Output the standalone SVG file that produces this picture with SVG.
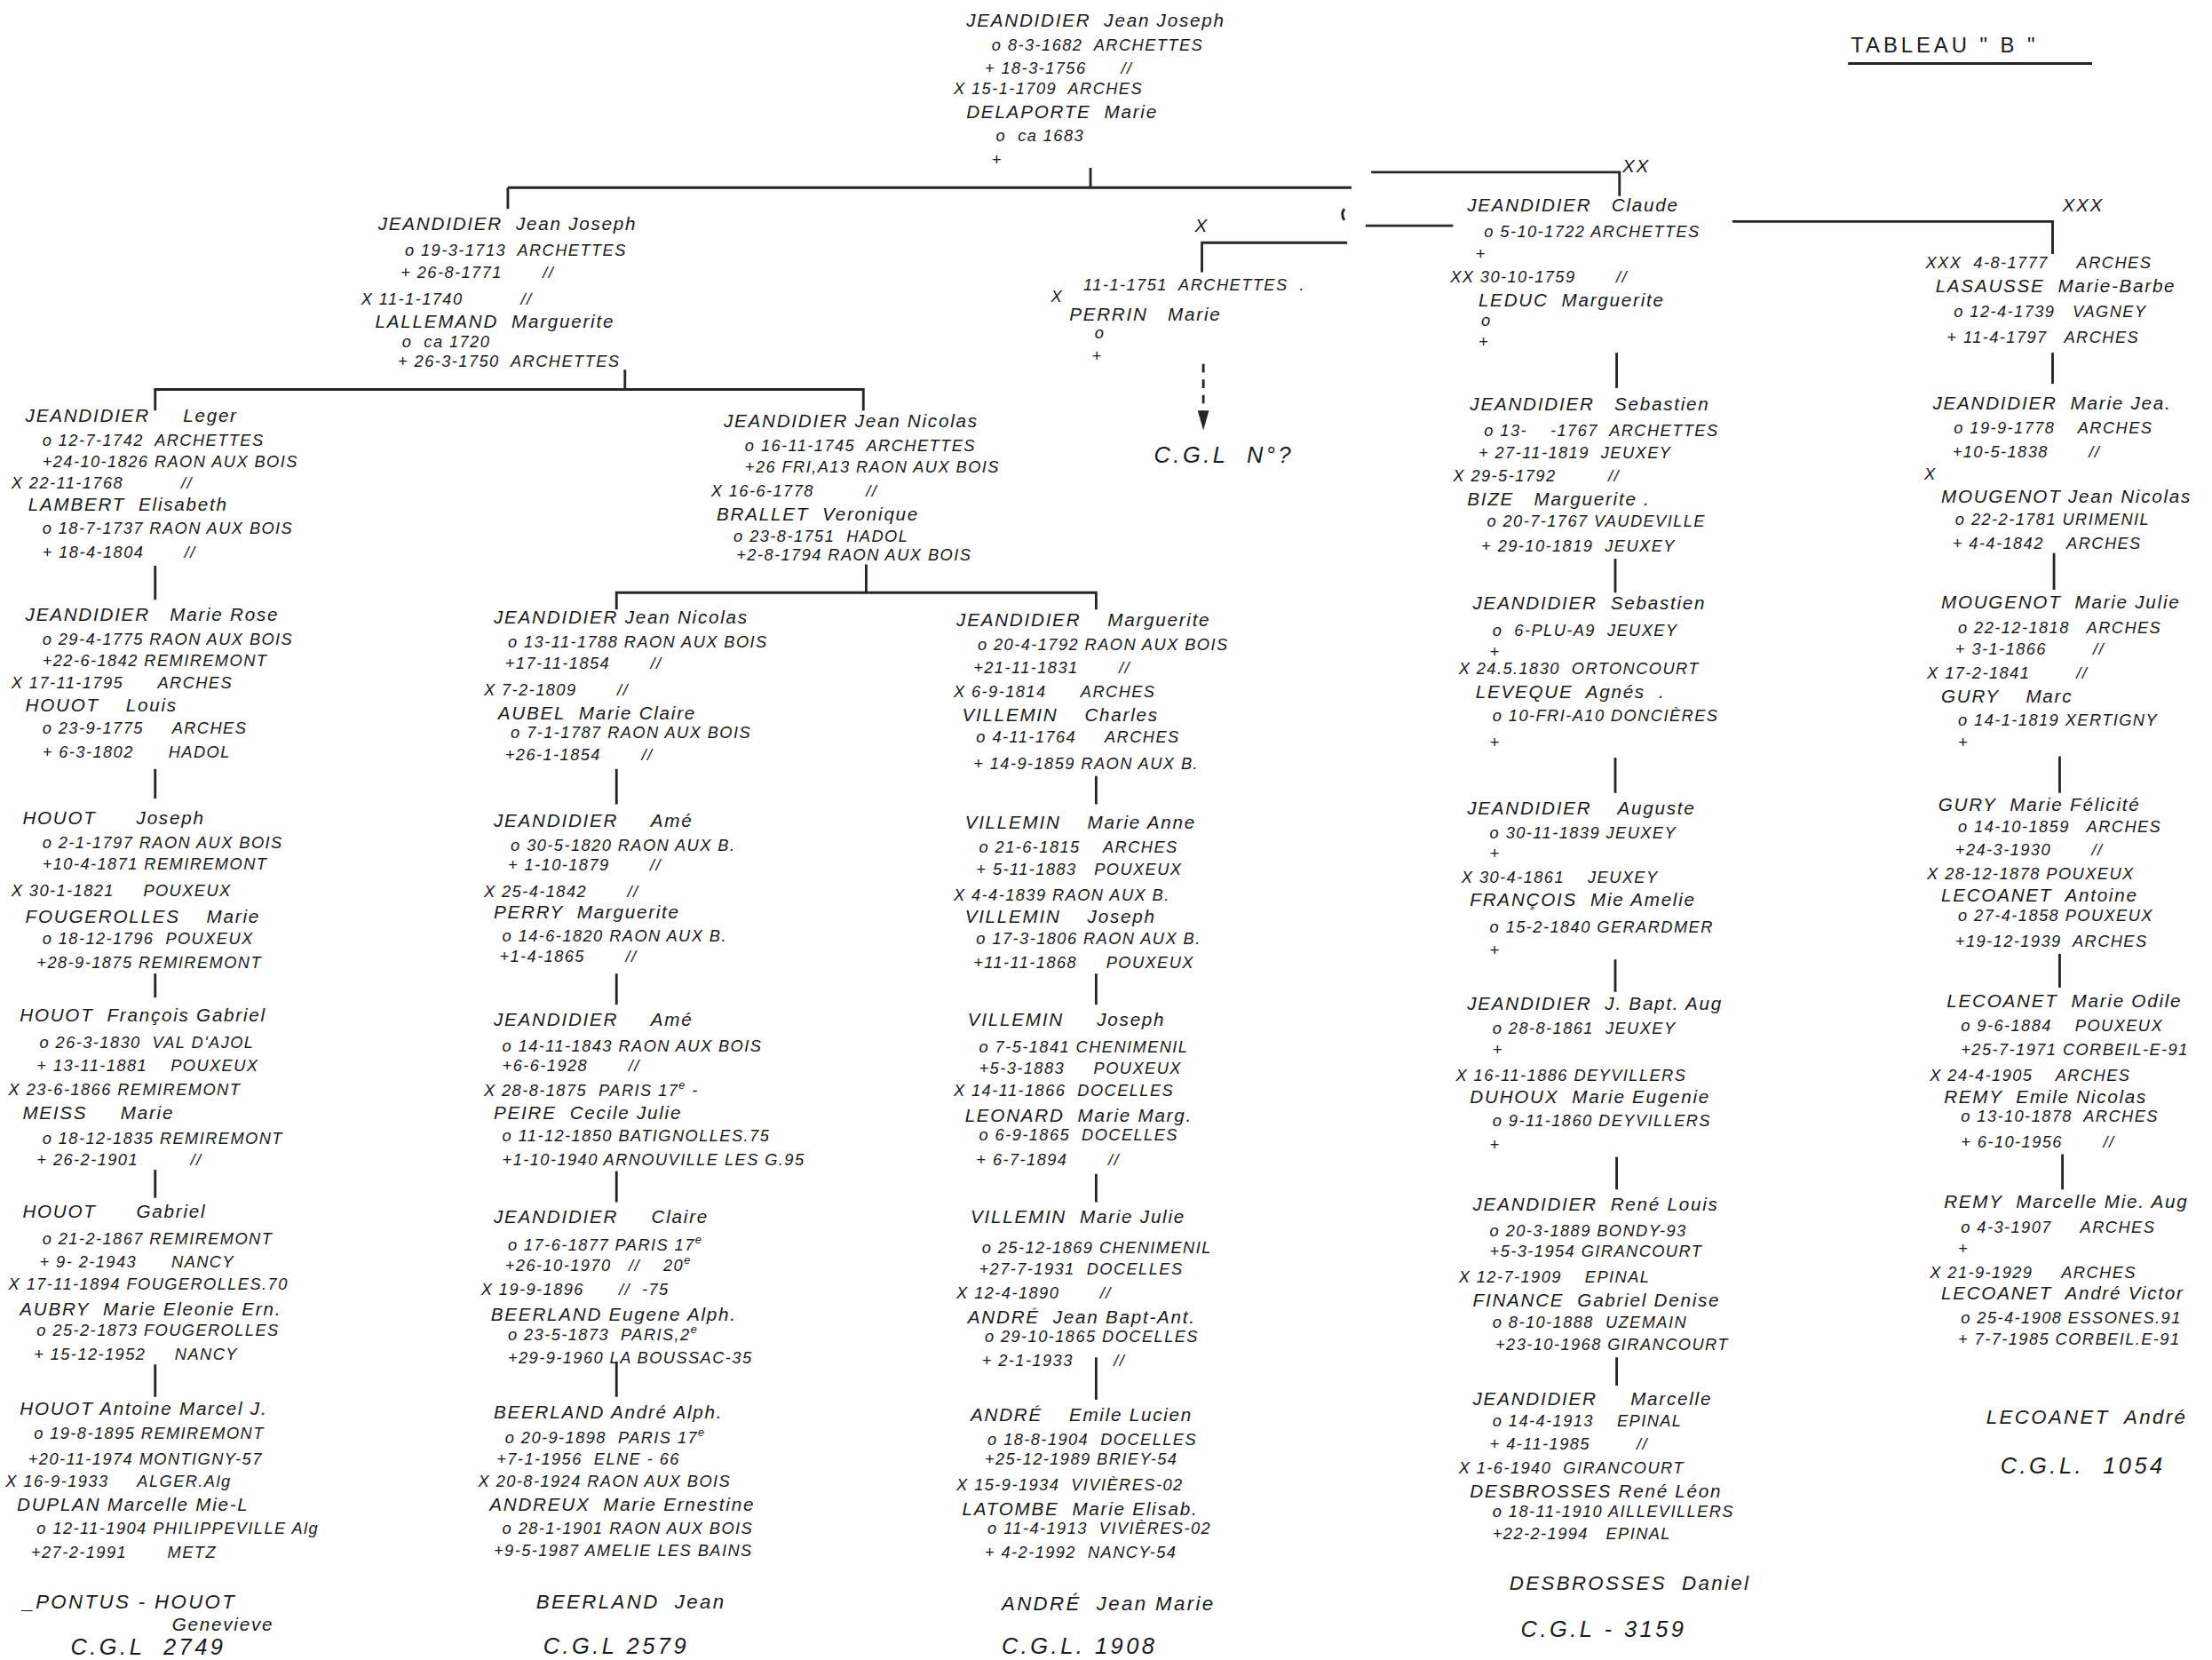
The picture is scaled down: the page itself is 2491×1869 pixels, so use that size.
<svg xmlns="http://www.w3.org/2000/svg" width="2491" height="1869" viewBox="0 0 2491 1869">
<style>
text{font-family:"Liberation Sans","DejaVu Sans",sans-serif;font-style:italic;fill:#1a1a1a;white-space:pre}
.n{font-size:13px;letter-spacing:1.1px}
.d{font-size:11.5px;letter-spacing:0.9px}
.f{font-size:14px;letter-spacing:1.5px}
.g{font-size:16px;letter-spacing:2.2px}
.t{font-size:15px;letter-spacing:2.5px;font-style:normal}
.c line,.c path{stroke:#262626;stroke-width:1.8;fill:none}
.c .dash{stroke-dasharray:6 5}
</style>
<rect width="2491" height="1869" fill="#fff"/>
<g transform="scale(1.58865)">
<g id="title">
<text class="t" x="1312" y="37">TABLEAU " B "</text>
<line x1="1310" y1="45" x2="1483" y2="45" stroke="#262626" stroke-width="1.8"/>
</g>
<g class="c" id="connectors">
<line x1="773" y1="119" x2="773" y2="133"/>
<line x1="360" y1="133" x2="958" y2="133"/>
<line x1="360" y1="133" x2="360" y2="148"/>
<path d="M972 122 H1148 V139"/>
<path d="M953 148 q-3 4 0 8"/>
<line x1="968" y1="160" x2="1030" y2="160"/>
<path d="M955 172 H852 V193"/>
<path d="M1228 157 H1455 V180"/>
<line class="dash" x1="853" y1="258" x2="853" y2="292"/>
<path d="M849 291 L857 291 L853 305 Z" style="fill:#262626;stroke:none"/>
<line x1="443" y1="262" x2="443" y2="276"/>
<path d="M110 291 V276 H612 V291"/>
<line x1="110" y1="401" x2="110" y2="425"/>
<line x1="110" y1="545" x2="110" y2="566"/>
<line x1="110" y1="690" x2="110" y2="707"/>
<line x1="110" y1="829" x2="110" y2="849"/>
<line x1="110" y1="967" x2="110" y2="990"/>
<line x1="614" y1="400" x2="614" y2="420"/>
<path d="M437 432 V420 H777 V432"/>
<line x1="437" y1="545" x2="437" y2="570"/>
<line x1="437" y1="690" x2="437" y2="712"/>
<line x1="437" y1="830" x2="437" y2="852"/>
<line x1="437" y1="965" x2="437" y2="990"/>
<line x1="777" y1="550" x2="777" y2="570"/>
<line x1="777" y1="690" x2="777" y2="712"/>
<line x1="777" y1="832" x2="777" y2="852"/>
<line x1="777" y1="962" x2="777" y2="992"/>
<line x1="1146" y1="250" x2="1146" y2="275"/>
<line x1="1145" y1="396" x2="1145" y2="420"/>
<line x1="1145" y1="537" x2="1145" y2="562"/>
<line x1="1145" y1="680" x2="1145" y2="703"/>
<line x1="1146" y1="820" x2="1146" y2="843"/>
<line x1="1146" y1="962" x2="1146" y2="982"/>
<line x1="1455" y1="250" x2="1455" y2="272"/>
<line x1="1456" y1="392" x2="1456" y2="418"/>
<line x1="1460" y1="536" x2="1460" y2="562"/>
<line x1="1460" y1="676" x2="1460" y2="700"/>
<line x1="1462" y1="818" x2="1462" y2="843"/>
</g>
<g id="marks">
<text class="n" x="1150" y="122">XX</text>
<text class="n" x="1462" y="150">XXX</text>
<text class="n" x="847" y="164">X</text>
</g>
<g id="root">
<text class="n" x="685" y="19">JEANDIDIER  Jean Joseph</text>
<text class="d" x="703" y="36">o 8-3-1682  ARCHETTES</text>
<text class="d" x="698" y="52">+ 18-3-1756      //</text>
<text class="d" x="676" y="67">X 15-1-1709  ARCHES</text>
<text class="n" x="685" y="84">DELAPORTE  Marie</text>
<text class="d" x="706" y="100">o  ca 1683</text>
<text class="d" x="703" y="117">+</text>
</g>
<g id="jeanjoseph1713">
<text class="n" x="268" y="163">JEANDIDIER  Jean Joseph</text>
<text class="d" x="287" y="181">o 19-3-1713  ARCHETTES</text>
<text class="d" x="284" y="197">+ 26-8-1771       //</text>
<text class="d" x="256" y="216">X 11-1-1740          //</text>
<text class="n" x="266" y="232">LALLEMAND  Marguerite</text>
<text class="d" x="285" y="246">o  ca 1720</text>
<text class="d" x="282" y="260">+ 26-3-1750  ARCHETTES</text>
</g>
<g id="perrin">
<text class="d" x="745" y="214">X</text>
<text class="d" x="768" y="206">11-1-1751  ARCHETTES  .</text>
<text class="n" x="758" y="227">PERRIN   Marie</text>
<text class="d" x="776" y="240">o</text>
<text class="d" x="774" y="256">+</text>
</g>
<g id="cgl-unknown">
<text class="g" x="818" y="328">C.G.L  N°?</text>
</g>
<g id="claude">
<text class="n" x="1040" y="150">JEANDIDIER   Claude</text>
<text class="d" x="1052" y="168">o 5-10-1722 ARCHETTES</text>
<text class="d" x="1046" y="184">+</text>
<text class="d" x="1028" y="200">XX 30-10-1759       //</text>
<text class="n" x="1048" y="217">LEDUC  Marguerite</text>
<text class="d" x="1050" y="231">o</text>
<text class="d" x="1048" y="246">+</text>
</g>
<g id="lasausse">
<text class="d" x="1365" y="190">XXX  4-8-1777     ARCHES</text>
<text class="n" x="1372" y="207">LASAUSSE  Marie-Barbe</text>
<text class="d" x="1385" y="225">o 12-4-1739   VAGNEY</text>
<text class="d" x="1380" y="243">+ 11-4-1797   ARCHES</text>
</g>
<g id="leger">
<text class="n" x="18" y="299">JEANDIDIER     Leger</text>
<text class="d" x="30" y="316">o 12-7-1742  ARCHETTES</text>
<text class="d" x="30" y="331">+24-10-1826 RAON AUX BOIS</text>
<text class="d" x="8" y="346">X 22-11-1768          //</text>
<text class="n" x="20" y="362">LAMBERT  Elisabeth</text>
<text class="d" x="30" y="378">o 18-7-1737 RAON AUX BOIS</text>
<text class="d" x="30" y="395">+ 18-4-1804       //</text>
</g>
<g id="marierose">
<text class="n" x="18" y="440">JEANDIDIER   Marie Rose</text>
<text class="d" x="30" y="457">o 29-4-1775 RAON AUX BOIS</text>
<text class="d" x="30" y="472">+22-6-1842 REMIREMONT</text>
<text class="d" x="8" y="488">X 17-11-1795      ARCHES</text>
<text class="n" x="18" y="504">HOUOT    Louis</text>
<text class="d" x="30" y="520">o 23-9-1775     ARCHES</text>
<text class="d" x="30" y="537">+ 6-3-1802      HADOL</text>
</g>
<g id="houotjoseph">
<text class="n" x="16" y="584">HOUOT      Joseph</text>
<text class="d" x="30" y="601">o 2-1-1797 RAON AUX BOIS</text>
<text class="d" x="30" y="616">+10-4-1871 REMIREMONT</text>
<text class="d" x="8" y="635">X 30-1-1821     POUXEUX</text>
<text class="n" x="18" y="654">FOUGEROLLES    Marie</text>
<text class="d" x="30" y="669">o 18-12-1796  POUXEUX</text>
<text class="d" x="26" y="686">+28-9-1875 REMIREMONT</text>
</g>
<g id="houotfrancois">
<text class="n" x="14" y="724">HOUOT  François Gabriel</text>
<text class="d" x="28" y="743">o 26-3-1830  VAL D'AJOL</text>
<text class="d" x="26" y="759">+ 13-11-1881    POUXEUX</text>
<text class="d" x="6" y="776">X 23-6-1866 REMIREMONT</text>
<text class="n" x="16" y="793">MEISS     Marie</text>
<text class="d" x="30" y="811">o 18-12-1835 REMIREMONT</text>
<text class="d" x="26" y="826">+ 26-2-1901         //</text>
</g>
<g id="houotgabriel">
<text class="n" x="16" y="863">HOUOT      Gabriel</text>
<text class="d" x="30" y="882">o 21-2-1867 REMIREMONT</text>
<text class="d" x="28" y="898">+ 9- 2-1943      NANCY</text>
<text class="d" x="6" y="914">X 17-11-1894 FOUGEROLLES.70</text>
<text class="n" x="14" y="932">AUBRY  Marie Eleonie Ern.</text>
<text class="d" x="26" y="947">o 25-2-1873 FOUGEROLLES</text>
<text class="d" x="24" y="964">+ 15-12-1952     NANCY</text>
</g>
<g id="houotantoine">
<text class="n" x="14" y="1003">HOUOT Antoine Marcel J.</text>
<text class="d" x="24" y="1020">o 19-8-1895 REMIREMONT</text>
<text class="d" x="20" y="1038">+20-11-1974 MONTIGNY-57</text>
<text class="d" x="4" y="1054">X 16-9-1933     ALGER.Alg</text>
<text class="n" x="12" y="1071">DUPLAN Marcelle Mie-L</text>
<text class="d" x="26" y="1087">o 12-11-1904 PHILIPPEVILLE Alg</text>
<text class="d" x="22" y="1104">+27-2-1991       METZ</text>
</g>
<g id="pontus">
<text class="f" x="16" y="1140">_PONTUS - HOUOT</text>
<text class="n" x="122" y="1156">Genevieve</text>
<text class="g" x="50" y="1173">C.G.L  2749</text>
</g>
<g id="jeannicolas1745">
<text class="n" x="513" y="303">JEANDIDIER Jean Nicolas</text>
<text class="d" x="528" y="320">o 16-11-1745  ARCHETTES</text>
<text class="d" x="528" y="335">+26 FRI,A13 RAON AUX BOIS</text>
<text class="d" x="504" y="352">X 16-6-1778         //</text>
<text class="n" x="508" y="369">BRALLET  Veronique</text>
<text class="d" x="520" y="384">o 23-8-1751  HADOL</text>
<text class="d" x="522" y="397">+2-8-1794 RAON AUX BOIS</text>
</g>
<g id="jeannicolas1788">
<text class="n" x="350" y="442">JEANDIDIER Jean Nicolas</text>
<text class="d" x="360" y="459">o 13-11-1788 RAON AUX BOIS</text>
<text class="d" x="358" y="474">+17-11-1854       //</text>
<text class="d" x="343" y="493">X 7-2-1809       //</text>
<text class="n" x="353" y="510">AUBEL  Marie Claire</text>
<text class="d" x="362" y="523">o 7-1-1787 RAON AUX BOIS</text>
<text class="d" x="358" y="539">+26-1-1854       //</text>
</g>
<g id="ame1820">
<text class="n" x="350" y="586">JEANDIDIER     Amé</text>
<text class="d" x="362" y="603">o 30-5-1820 RAON AUX B.</text>
<text class="d" x="360" y="617">+ 1-10-1879       //</text>
<text class="d" x="343" y="636">X 25-4-1842       //</text>
<text class="n" x="350" y="651">PERRY  Marguerite</text>
<text class="d" x="356" y="667">o 14-6-1820 RAON AUX B.</text>
<text class="d" x="354" y="682">+1-4-1865       //</text>
</g>
<g id="ame1843">
<text class="n" x="350" y="727">JEANDIDIER     Amé</text>
<text class="d" x="356" y="745">o 14-11-1843 RAON AUX BOIS</text>
<text class="d" x="356" y="759">+6-6-1928       //</text>
<text class="d" x="343" y="777">X 28-8-1875  PARIS 17<tspan dy="-5" font-size="8">e</tspan><tspan dy="5"> -</tspan></text>
<text class="n" x="350" y="793">PEIRE  Cecile Julie</text>
<text class="d" x="356" y="809">o 11-12-1850 BATIGNOLLES.75</text>
<text class="d" x="356" y="826">+1-10-1940 ARNOUVILLE LES G.95</text>
</g>
<g id="claire">
<text class="n" x="350" y="867">JEANDIDIER     Claire</text>
<text class="d" x="360" y="886">o 17-6-1877 PARIS 17<tspan dy="-5" font-size="8">e</tspan></text>
<text class="d" x="358" y="901">+26-10-1970   //    20<tspan dy="-5" font-size="8">e</tspan></text>
<text class="d" x="341" y="918">X 19-9-1896      //  -75</text>
<text class="n" x="348" y="936">BEERLAND Eugene Alph.</text>
<text class="d" x="360" y="950">o 23-5-1873  PARIS,2<tspan dy="-5" font-size="8">e</tspan></text>
<text class="d" x="360" y="966">+29-9-1960 LA BOUSSAC-35</text>
</g>
<g id="beerlandandre">
<text class="n" x="350" y="1005">BEERLAND André Alph.</text>
<text class="d" x="358" y="1023">o 20-9-1898  PARIS 17<tspan dy="-5" font-size="8">e</tspan></text>
<text class="d" x="352" y="1038">+7-1-1956  ELNE - 66</text>
<text class="d" x="339" y="1054">X 20-8-1924 RAON AUX BOIS</text>
<text class="n" x="347" y="1071">ANDREUX  Marie Ernestine</text>
<text class="d" x="356" y="1087">o 28-1-1901 RAON AUX BOIS</text>
<text class="d" x="350" y="1103">+9-5-1987 AMELIE LES BAINS</text>
</g>
<g id="beerlandjean">
<text class="f" x="380" y="1140">BEERLAND  Jean</text>
<text class="g" x="385" y="1172">C.G.L 2579</text>
</g>
<g id="marguerite1792">
<text class="n" x="678" y="444">JEANDIDIER    Marguerite</text>
<text class="d" x="693" y="461">o 20-4-1792 RAON AUX BOIS</text>
<text class="d" x="690" y="477">+21-11-1831       //</text>
<text class="d" x="676" y="494">X 6-9-1814      ARCHES</text>
<text class="n" x="682" y="511">VILLEMIN    Charles</text>
<text class="d" x="692" y="526">o 4-11-1764     ARCHES</text>
<text class="d" x="690" y="545">+ 14-9-1859 RAON AUX B.</text>
</g>
<g id="villeminmarieanne">
<text class="n" x="684" y="587">VILLEMIN    Marie Anne</text>
<text class="d" x="694" y="604">o 21-6-1815    ARCHES</text>
<text class="d" x="692" y="620">+ 5-11-1883   POUXEUX</text>
<text class="d" x="676" y="638">X 4-4-1839 RAON AUX B.</text>
<text class="n" x="684" y="654">VILLEMIN    Joseph</text>
<text class="d" x="692" y="669">o 17-3-1806 RAON AUX B.</text>
<text class="d" x="690" y="686">+11-11-1868     POUXEUX</text>
</g>
<g id="villeminjoseph">
<text class="n" x="686" y="727">VILLEMIN     Joseph</text>
<text class="d" x="694" y="746">o 7-5-1841 CHENIMENIL</text>
<text class="d" x="694" y="761">+5-3-1883     POUXEUX</text>
<text class="d" x="676" y="777">X 14-11-1866  DOCELLES</text>
<text class="n" x="684" y="795">LEONARD  Marie Marg.</text>
<text class="d" x="694" y="808">o 6-9-1865  DOCELLES</text>
<text class="d" x="692" y="826">+ 6-7-1894       //</text>
</g>
<g id="villeminmariejulie">
<text class="n" x="688" y="867">VILLEMIN  Marie Julie</text>
<text class="d" x="696" y="888">o 25-12-1869 CHENIMENIL</text>
<text class="d" x="694" y="903">+27-7-1931  DOCELLES</text>
<text class="d" x="678" y="920">X 12-4-1890       //</text>
<text class="n" x="686" y="938">ANDRÉ  Jean Bapt-Ant.</text>
<text class="d" x="698" y="951">o 29-10-1865 DOCELLES</text>
<text class="d" x="696" y="968">+ 2-1-1933       //</text>
</g>
<g id="andreemile">
<text class="n" x="688" y="1007">ANDRÉ    Emile Lucien</text>
<text class="d" x="700" y="1024">o 18-8-1904  DOCELLES</text>
<text class="d" x="698" y="1038">+25-12-1989 BRIEY-54</text>
<text class="d" x="678" y="1056">X 15-9-1934  VIVIÈRES-02</text>
<text class="n" x="682" y="1074">LATOMBE  Marie Elisab.</text>
<text class="d" x="700" y="1087">o 11-4-1913  VIVIÈRES-02</text>
<text class="d" x="698" y="1104">+ 4-2-1992  NANCY-54</text>
</g>
<g id="andrejeanmarie">
<text class="f" x="710" y="1141">ANDRÉ  Jean Marie</text>
<text class="g" x="710" y="1172">C.G.L. 1908</text>
</g>
<g id="sebastien1767">
<text class="n" x="1042" y="291">JEANDIDIER   Sebastien</text>
<text class="d" x="1052" y="309">o 13-    -1767  ARCHETTES</text>
<text class="d" x="1048" y="325">+ 27-11-1819  JEUXEY</text>
<text class="d" x="1030" y="341">X 29-5-1792         //</text>
<text class="n" x="1040" y="358">BIZE   Marguerite .</text>
<text class="d" x="1054" y="373">o 20-7-1767 VAUDEVILLE</text>
<text class="d" x="1050" y="391">+ 29-10-1819  JEUXEY</text>
</g>
<g id="sebastien2">
<text class="n" x="1044" y="432">JEANDIDIER  Sebastien</text>
<text class="d" x="1058" y="451">o  6-PLU-A9  JEUXEY</text>
<text class="d" x="1056" y="466">+</text>
<text class="d" x="1034" y="478">X 24.5.1830  ORTONCOURT</text>
<text class="n" x="1046" y="495">LEVEQUE  Agnés  .</text>
<text class="d" x="1058" y="511">o 10-FRI-A10 DONCIÈRES</text>
<text class="d" x="1056" y="530">+</text>
</g>
<g id="auguste">
<text class="n" x="1040" y="577">JEANDIDIER    Auguste</text>
<text class="d" x="1056" y="594">o 30-11-1839 JEUXEY</text>
<text class="d" x="1056" y="609">+</text>
<text class="d" x="1036" y="626">X 30-4-1861    JEUXEY</text>
<text class="n" x="1042" y="642">FRANÇOIS  Mie Amelie</text>
<text class="d" x="1056" y="661">o 15-2-1840 GERARDMER</text>
<text class="d" x="1056" y="677">+</text>
</g>
<g id="jbaptaug">
<text class="n" x="1040" y="716">JEANDIDIER  J. Bapt. Aug</text>
<text class="d" x="1058" y="733">o 28-8-1861  JEUXEY</text>
<text class="d" x="1058" y="748">+</text>
<text class="d" x="1032" y="766">X 16-11-1886 DEYVILLERS</text>
<text class="n" x="1042" y="782">DUHOUX  Marie Eugenie</text>
<text class="d" x="1058" y="798">o 9-11-1860 DEYVILLERS</text>
<text class="d" x="1056" y="815">+</text>
</g>
<g id="renelouis">
<text class="n" x="1044" y="858">JEANDIDIER  René Louis</text>
<text class="d" x="1056" y="876">o 20-3-1889 BONDY-93</text>
<text class="d" x="1056" y="891">+5-3-1954 GIRANCOURT</text>
<text class="d" x="1034" y="909">X 12-7-1909    EPINAL</text>
<text class="n" x="1044" y="926">FINANCE  Gabriel Denise</text>
<text class="d" x="1058" y="941">o 8-10-1888  UZEMAIN</text>
<text class="d" x="1060" y="957">+23-10-1968 GIRANCOURT</text>
</g>
<g id="marcelle">
<text class="n" x="1044" y="996">JEANDIDIER     Marcelle</text>
<text class="d" x="1058" y="1011">o 14-4-1913    EPINAL</text>
<text class="d" x="1056" y="1027">+ 4-11-1985        //</text>
<text class="d" x="1034" y="1044">X 1-6-1940  GIRANCOURT</text>
<text class="n" x="1042" y="1061">DESBROSSES René Léon</text>
<text class="d" x="1058" y="1075">o 18-11-1910 AILLEVILLERS</text>
<text class="d" x="1058" y="1091">+22-2-1994   EPINAL</text>
</g>
<g id="desbrossesdaniel">
<text class="f" x="1070" y="1127">DESBROSSES  Daniel</text>
<text class="g" x="1078" y="1160">C.G.L - 3159</text>
</g>
<g id="mariejea">
<text class="n" x="1370" y="290">JEANDIDIER  Marie Jea.</text>
<text class="d" x="1385" y="307">o 19-9-1778    ARCHES</text>
<text class="d" x="1384" y="324">+10-5-1838       //</text>
<text class="d" x="1364" y="340">X</text>
<text class="n" x="1376" y="356">MOUGENOT Jean Nicolas</text>
<text class="d" x="1386" y="372">o 22-2-1781 URIMENIL</text>
<text class="d" x="1384" y="389">+ 4-4-1842    ARCHES</text>
</g>
<g id="mougenotmariejulie">
<text class="n" x="1376" y="431">MOUGENOT  Marie Julie</text>
<text class="d" x="1388" y="449">o 22-12-1818   ARCHES</text>
<text class="d" x="1386" y="464">+ 3-1-1866        //</text>
<text class="d" x="1366" y="481">X 17-2-1841        //</text>
<text class="n" x="1376" y="498">GURY    Marc</text>
<text class="d" x="1388" y="514">o 14-1-1819 XERTIGNY</text>
<text class="d" x="1388" y="530">+</text>
</g>
<g id="gury">
<text class="n" x="1374" y="575">GURY  Marie Félicité</text>
<text class="d" x="1388" y="590">o 14-10-1859   ARCHES</text>
<text class="d" x="1386" y="606">+24-3-1930       //</text>
<text class="d" x="1366" y="623">X 28-12-1878 POUXEUX</text>
<text class="n" x="1376" y="639">LECOANET  Antoine</text>
<text class="d" x="1388" y="653">o 27-4-1858 POUXEUX</text>
<text class="d" x="1386" y="671">+19-12-1939  ARCHES</text>
</g>
<g id="lecoanetodile">
<text class="n" x="1380" y="714">LECOANET  Marie Odile</text>
<text class="d" x="1390" y="731">o 9-6-1884    POUXEUX</text>
<text class="d" x="1390" y="748">+25-7-1971 CORBEIL-E-91</text>
<text class="d" x="1368" y="766">X 24-4-1905    ARCHES</text>
<text class="n" x="1378" y="782">REMY  Emile Nicolas</text>
<text class="d" x="1390" y="795">o 13-10-1878  ARCHES</text>
<text class="d" x="1390" y="813">+ 6-10-1956       //</text>
</g>
<g id="remymarcelle">
<text class="n" x="1378" y="856">REMY  Marcelle Mie. Aug</text>
<text class="d" x="1390" y="874">o 4-3-1907     ARCHES</text>
<text class="d" x="1388" y="889">+</text>
<text class="d" x="1368" y="906">X 21-9-1929     ARCHES</text>
<text class="n" x="1376" y="921">LECOANET  André Victor</text>
<text class="d" x="1390" y="938">o 25-4-1908 ESSONES.91</text>
<text class="d" x="1388" y="953">+ 7-7-1985 CORBEIL.E-91</text>
</g>
<g id="lecoanetandre">
<text class="f" x="1408" y="1009">LECOANET  André</text>
<text class="g" x="1418" y="1044">C.G.L.  1054</text>
</g>
</g>
</svg>
